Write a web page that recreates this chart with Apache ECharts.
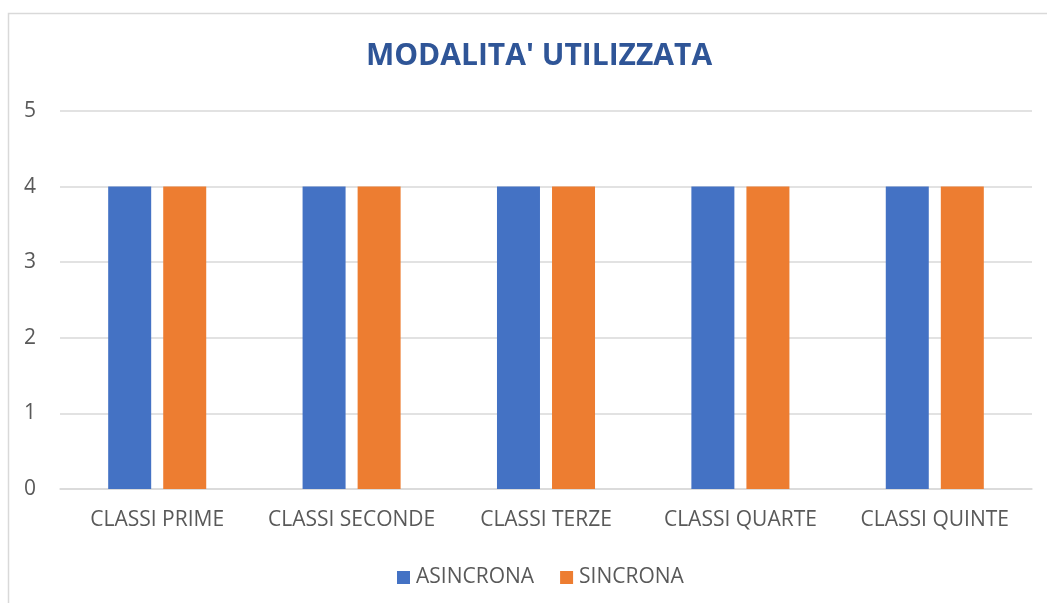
<!DOCTYPE html>
<html>
<head>
<meta charset="utf-8">
<script src="https://cdn.jsdelivr.net/npm/echarts@6/dist/echarts.min.js"></script>
<style>
html,body{margin:0;padding:0;background:#fff;}
#c{width:1047px;height:603px;}
</style>
</head>
<body>
<div id="c"></div>
<script>
const categories = ['CLASSI PRIME', 'CLASSI SECONDE', 'CLASSI TERZE', 'CLASSI QUARTE', 'CLASSI QUINTE'];
const asincrona = [4, 4, 4, 4, 4];
const sincrona = [4, 4, 4, 4, 4];
const yTicks = [0, 1, 2, 3, 4, 5];

const chart = echarts.init(document.getElementById('c'), null, {renderer: 'canvas'});
const font = 'Open Sans';
chart.setOption({
  backgroundColor: '#fff',
  animation: false,
  graphic: [{
    type: 'rect',
    shape: {x: 8.5, y: 13.5, width: 1100, height: 700},
    style: {fill: 'none', stroke: '#d9d9d9', lineWidth: 1.5},
    silent: true,
    z: -1
  }],
  title: {
    text: "MODALITA' UTILIZZATA",
    left: 534,
    textAlign: 'center',
    top: 36,
    textStyle: {fontFamily: font, fontWeight: 'bold', fontSize: 30, color: '#2F5597'}
  },
  legend: {
    data: ['ASINCRONA', 'SINCRONA'],
    left: 392,
    top: 562,
    itemWidth: 13,
    itemHeight: 13,
    itemGap: 26,
    icon: 'rect',
    textStyle: {fontFamily: font, fontSize: 21, color: '#595959', padding: [0, 0, 0, 1]}
  },
  grid: {left: 60, right: 15, top: 111, bottom: 114, containLabel: false},
  xAxis: {
    type: 'category',
    data: categories,
    axisLine: {lineStyle: {color: '#d9d9d9', width: 1.5}},
    axisTick: {show: false},
    axisLabel: {fontFamily: font, fontSize: 21, color: '#595959', margin: 21, interval: 0}
  },
  yAxis: {
    type: 'value',
    min: yTicks[0],
    max: yTicks[yTicks.length - 1],
    interval: 1,
    axisLine: {show: false},
    axisTick: {show: false},
    splitLine: {lineStyle: {color: '#d9d9d9', width: 1.5}},
    axisLabel: {fontFamily: font, fontSize: 21, color: '#595959', margin: 24}
  },
  series: [
    {name: 'ASINCRONA', type: 'bar', data: asincrona, barWidth: 43, barGap: '28%', itemStyle: {color: '#4472C4'}},
    {name: 'SINCRONA', type: 'bar', data: sincrona, barWidth: 43, itemStyle: {color: '#ED7D31'}}
  ]
});
</script>
</body>
</html>
